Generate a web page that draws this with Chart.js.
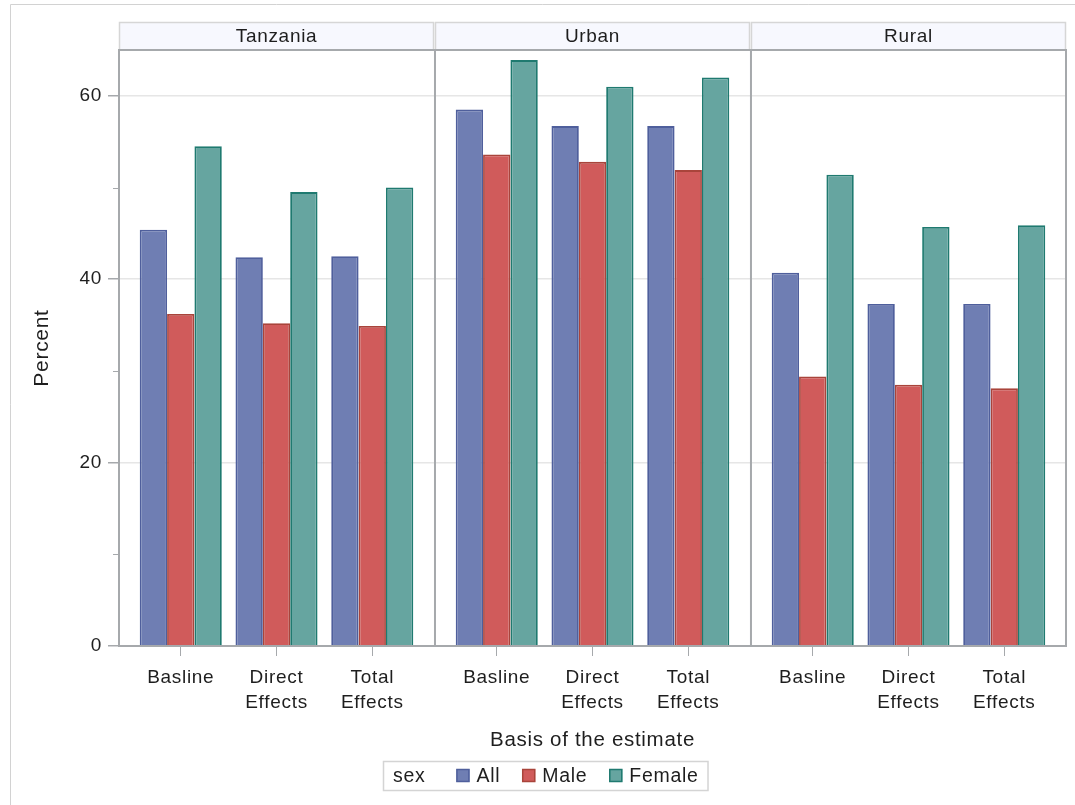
<!DOCTYPE html>
<html><head><meta charset="utf-8">
<script src="https://cdn.jsdelivr.net/npm/chart.js@4.4.0/dist/chart.umd.min.js"></script>
<style>html,body{margin:0;padding:0;background:#fff;}canvas{display:block;}</style>
</head><body>
<canvas id="c" width="1075" height="805"></canvas>
<script>
// ---- data ----
const panels = ['Tanzania', 'Urban', 'Rural'];
const categories = [['Basline'], ['Direct', 'Effects'], ['Total', 'Effects']];
const seriesNames = ['All', 'Male', 'Female'];
const allValues    = [45.4, 42.4, 42.5, 58.5, 56.7, 56.7, 40.7, 37.3, 37.3];
const maleValues   = [36.2, 35.2, 34.9, 53.6, 52.8, 51.9, 29.4, 28.5, 28.1];
const femaleValues = [54.5, 49.5, 50.0, 63.9, 61.0, 62.0, 51.4, 45.7, 45.9];
const yTicks = [0, 20, 40, 60];
const yMinorTicks = [10, 30, 50];
const legendTitle = 'sex';
const xTitle = 'Basis of the estimate';
const yTitle = 'Percent';

// ---- styling / layout helpers ----
const FONT = "'Liberation Sans', Arial, sans-serif";
const fills = ['#6F7EB3', '#D05B5B', '#66A5A0'];
const lines = ['#4F5F9C', '#A9443B', '#1F7A70'];
const FRAME = '#a6a9ac';
const SPAN = 3.3, EDGE = 0.645;
const nCat = categories.length;
const xPos = (p, c) => p * SPAN + c;
const xTickValues = [];
panels.forEach((_, p) => categories.forEach((_, c) => xTickValues.push(xPos(p, c))));
const seriesValues = [allValues, maleValues, femaleValues];

function toPoints(vals) {
  return vals.map((v, i) => ({ x: xPos(Math.floor(i / nCat), i % nCat), y: v }));
}

Chart.defaults.font.family = FONT;
Chart.defaults.font.size = 19;
Chart.defaults.color = '#1e1e1e';

const LS = '0.7px';
const spacing = {
  id: 'spacing',
  beforeUpdate(ch) { ch.ctx.letterSpacing = LS; },
  beforeDraw(ch) { ch.ctx.letterSpacing = LS; }
};

const decor = {
  id: 'decor',
  afterDraw(ch) {
    const ctx = ch.ctx, a = ch.chartArea, xs = ch.scales.x, ys = ch.scales.y;
    ctx.save();
    ctx.letterSpacing = LS;
    // outer frame
    ctx.strokeStyle = '#d2d2d2'; ctx.lineWidth = 1;
    ctx.beginPath(); ctx.moveTo(10.5, 805); ctx.lineTo(10.5, 4.5); ctx.lineTo(1075, 4.5); ctx.stroke();
    // panel headers
    panels.forEach((name, p) => {
      const x0 = xs.getPixelForValue(p * SPAN - EDGE);
      const x1 = xs.getPixelForValue(p * SPAN + (nCat - 1) + EDGE);
      ctx.fillStyle = '#f7f8fe';
      ctx.fillRect(x0, 22, x1 - x0, a.top - 22);
      ctx.strokeStyle = '#d6d6d6'; ctx.lineWidth = 1.5;
      ctx.strokeRect(x0 + 0.5, 22.5, x1 - x0 - 1, a.top - 22.5);
      ctx.fillStyle = '#1e1e1e'; ctx.font = '19px ' + FONT;
      ctx.textAlign = 'center'; ctx.textBaseline = 'middle';
      ctx.fillText(name, (x0 + x1) / 2, 37);
    });
    // panel frame and separators
    ctx.strokeStyle = FRAME; ctx.lineWidth = 2;
    ctx.strokeRect(a.left, a.top, a.right - a.left, a.bottom - a.top);
    for (let p = 1; p < panels.length; p++) {
      const x = xs.getPixelForValue(p * SPAN - EDGE);
      ctx.beginPath(); ctx.moveTo(x, a.top); ctx.lineTo(x, a.bottom); ctx.stroke();
    }
    // minor y ticks
    ctx.lineWidth = 1;
    yMinorTicks.forEach(v => {
      const y = Math.round(ys.getPixelForValue(v)) + 0.5;
      ctx.beginPath(); ctx.moveTo(a.left - 6, y); ctx.lineTo(a.left, y); ctx.stroke();
    });
    // legend
    ctx.font = '19.5px ' + FONT;
    ctx.textBaseline = 'middle'; ctx.textAlign = 'left';
    const box = 13, boxGap = 7, itemGap = 22, padL = 10, padR = 9, titleGap = 31;
    const tW = ctx.measureText(legendTitle).width;
    const iW = seriesNames.map(s => ctx.measureText(s).width);
    let total = padL + tW + titleGap + padR;
    iW.forEach((w, i) => { total += box + boxGap + w + (i < iW.length - 1 ? itemGap : 0); });
    const left = Math.round(545.5 - total / 2), top = 761, h = 29, cy = top + h / 2;
    ctx.strokeStyle = '#d4d4d4'; ctx.lineWidth = 1.5;
    ctx.strokeRect(left + 0.5, top + 0.5, total, h);
    ctx.fillStyle = '#1e1e1e';
    let x = left + padL;
    ctx.fillText(legendTitle, x, cy + 1);
    x += tW + titleGap;
    seriesNames.forEach((s, i) => {
      ctx.fillStyle = fills[i];
      ctx.fillRect(x, cy - box / 2, box, box);
      ctx.strokeStyle = lines[i]; ctx.lineWidth = 1.5;
      ctx.strokeRect(x + 0.5, cy - box / 2 + 0.5, box - 1, box - 1);
      x += box + boxGap;
      ctx.fillStyle = '#1e1e1e';
      ctx.fillText(s, x, cy + 1);
      x += iW[i] + itemGap;
    });
    ctx.restore();
  }
};

new Chart(document.getElementById('c'), {
  type: 'bar',
  data: {
    datasets: seriesNames.map((name, i) => ({
      label: name,
      data: toPoints(seriesValues[i]),
      backgroundColor: fills[i],
      borderColor: lines[i],
      borderWidth: 1.8,
      categoryPercentage: 0.857,
      barPercentage: 1.0
    }))
  },
  options: {
    responsive: false,
    animation: false,
    devicePixelRatio: 1,
    layout: { padding: { top: 50, right: 9, bottom: 50, left: 0 } },
    plugins: { legend: { display: false }, tooltip: { enabled: false } },
    scales: {
      x: {
        type: 'linear',
        offset: false,
        min: -EDGE,
        max: (panels.length - 1) * SPAN + (nCat - 1) + EDGE,
        afterBuildTicks(axis) { axis.ticks = xTickValues.map(v => ({ value: v })); },
        afterFit(scale) { scale.height = 109; },
        ticks: {
          autoSkip: false, maxRotation: 0, padding: 9,
          font: { size: 19, lineHeight: 1.33 },
          callback(value) {
            const p = Math.floor((value + EDGE) / SPAN);
            const c = Math.round(value - p * SPAN);
            return categories[c];
          }
        },
        grid: { offset: false, drawOnChartArea: false, drawTicks: true, tickLength: 10, tickColor: FRAME, tickWidth: 1 },
        border: { display: true, color: FRAME, width: 2 },
        title: { display: true, text: xTitle, font: { size: 20.5 }, padding: { top: 0, bottom: 2 } }
      },
      y: {
        min: 0, max: 65,
        afterBuildTicks(axis) {
          axis.ticks = [...yTicks, ...yMinorTicks].sort((a, b) => a - b).map(v => ({ value: v }));
        },
        afterFit(scale) { scale.width = 119; },
        ticks: {
          padding: 6, font: { size: 19 },
          callback(value) { return yTicks.includes(value) ? String(value) : ''; }
        },
        grid: {
          color: c => (yTicks.includes(c.tick.value) && c.tick.value > 0) ? '#e6e6e6' : 'rgba(0,0,0,0)',
          lineWidth: 1.5,
          tickLength: 11,
          tickColor: c => yTicks.includes(c.tick.value) ? FRAME : 'rgba(0,0,0,0)'
        },
        border: { display: true, color: FRAME, width: 2 },
        title: { display: true, text: yTitle, font: { size: 21 }, padding: { top: 30, bottom: 0 } }
      }
    }
  },
  plugins: [spacing, decor]
});
</script>
</body></html>
